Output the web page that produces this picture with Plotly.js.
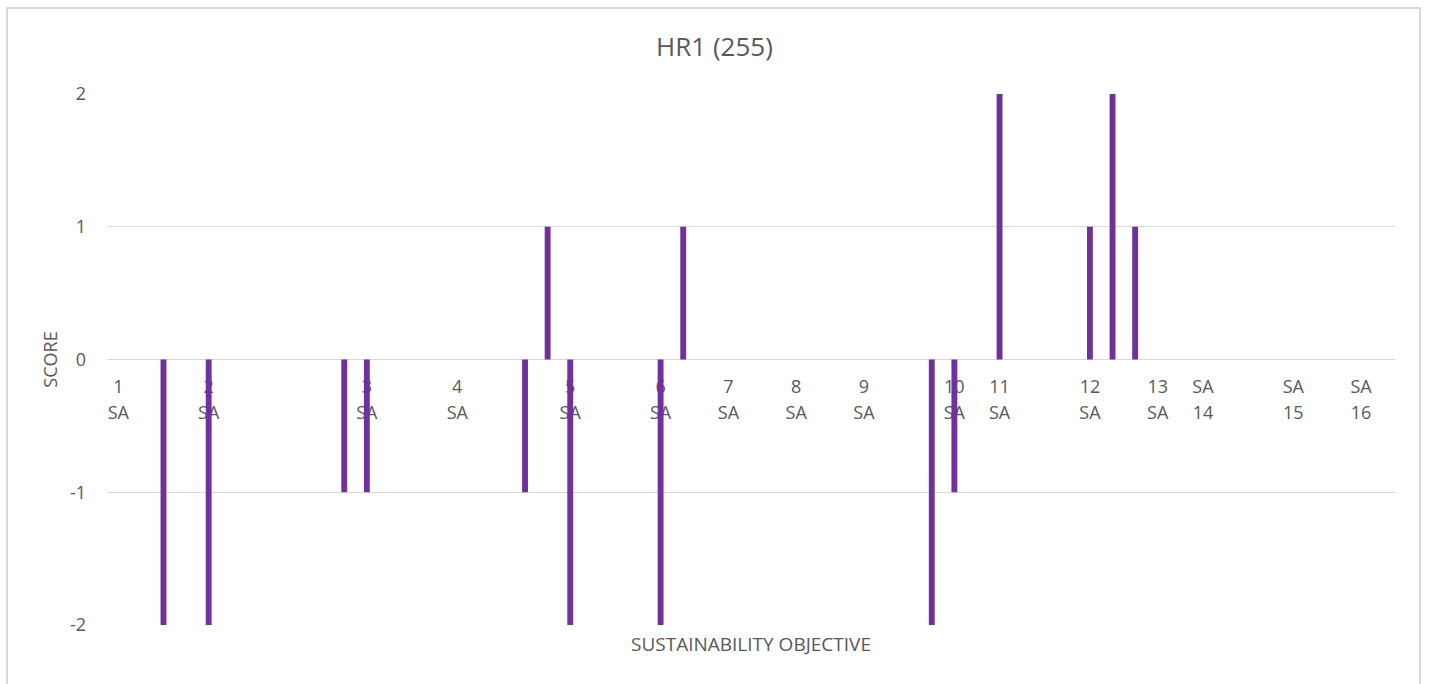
<!DOCTYPE html>
<html>
<head>
<meta charset="utf-8">
<script src="https://cdn.plot.ly/plotly-3.0.1.min.js"></script>
<style>
html,body{margin:0;padding:0;background:#fff;overflow:hidden;}
#chart{position:absolute;left:0;top:0;width:1429px;height:684px;}
#frame{position:absolute;left:6px;top:7px;width:1411px;height:700px;border:2px solid #d9d9d9;pointer-events:none;}
</style>
</head>
<body>
<div id="chart"></div>
<div id="frame"></div>
<script>
// 57 category slots along the sustainability-objective axis
const slots = Array.from({length: 57}, (_, i) => i);
const scores = [
  null, null, -2, null, -2, null, null, null, null, null,
  -1, -1, null, null, null, null, null, null, -1, 1,
  -2, null, null, null, -2, 1, null, null, null, null,
  null, null, null, null, null, null, -2, -1, null, 2,
  null, null, null, 1, 2, 1, null, null, null, null,
  null, null, null, null, null, null, null
];
const labelSlots = [0, 4, 11, 15, 20, 24, 27, 30, 33, 37, 39, 43, 46, 48, 52, 55];
const labelTop = ['1','2','3','4','5','6','7','8','9','10','11','12','13','SA','SA','SA'];
const labelBottom = ['SA','SA','SA','SA','SA','SA','SA','SA','SA','SA','SA','SA','SA','14','15','16'];
const yTicks = [-2, -1, 0, 1, 2];
const yTickText = ['-2', '-1', '0', '1', '2'];

const textColor = '#595959';
const fontFam = '"Open Sans", "Liberation Sans", sans-serif';
const lblSize = 18;

const trace = {
  type: 'bar',
  x: slots,
  y: scores,
  marker: {color: '#7030A0'},
  hoverinfo: 'x+y'
};

const xrange = [-0.5, 56.5];

const layout = {
  width: 1429, height: 684,
  margin: {l: 107, r: 34, t: 94, b: 59},
  paper_bgcolor: 'rgba(0,0,0,0)',
  plot_bgcolor: '#fff',
  showlegend: false,
  bargap: 0.74,
  font: {family: fontFam, color: textColor, size: lblSize},
  title: {text: 'HR1 (255)', x: 0.5, xanchor: 'center', y: 0.932, yanchor: 'middle',
          font: {family: fontFam, size: 26, color: textColor}},
  xaxis: {
    type: 'linear', range: xrange, anchor: 'free', position: 0.5,
    tickmode: 'array', tickvals: labelSlots, ticktext: labelTop,
    showgrid: false, zeroline: false, showline: false, ticks: '',
    ticklabelstandoff: 14, layer: 'below traces',
    tickfont: {family: fontFam, size: lblSize, color: textColor},
    fixedrange: true
  },
  xaxis2: {
    type: 'linear', range: xrange, overlaying: 'x', anchor: 'free', position: 0.5, side: 'bottom',
    tickmode: 'array', tickvals: labelSlots, ticktext: labelBottom,
    showgrid: false, zeroline: false, showline: false, ticks: '',
    ticklabelstandoff: 40, layer: 'below traces',
    tickfont: {family: fontFam, size: lblSize, color: textColor},
    fixedrange: true
  },
  yaxis: {
    range: [-2, 2], tickmode: 'array', tickvals: yTicks, ticktext: yTickText,
    showgrid: true, gridcolor: '#d9d9d9', gridwidth: 1,
    zeroline: true, zerolinecolor: '#d9d9d9', zerolinewidth: 1,
    showline: false, ticks: '', ticklabelstandoff: 20,
    tickfont: {family: fontFam, size: lblSize, color: textColor},
    title: {text: 'SCORE', standoff: 7, font: {family: fontFam, size: lblSize, color: textColor}},
    fixedrange: true
  },
  annotations: [{
    text: 'SUSTAINABILITY OBJECTIVE', xref: 'paper', yref: 'paper',
    x: 0.5, y: 0, xanchor: 'center', yanchor: 'middle', yshift: -19, showarrow: false,
    font: {family: fontFam, size: 19, color: textColor}
  }]
};

const ghost = {type: 'scatter', x: [], y: [], xaxis: 'x2', yaxis: 'y', hoverinfo: 'skip'};

Plotly.newPlot('chart', [trace, ghost], layout, {displayModeBar: false, staticPlot: true});
</script>
</body>
</html>
